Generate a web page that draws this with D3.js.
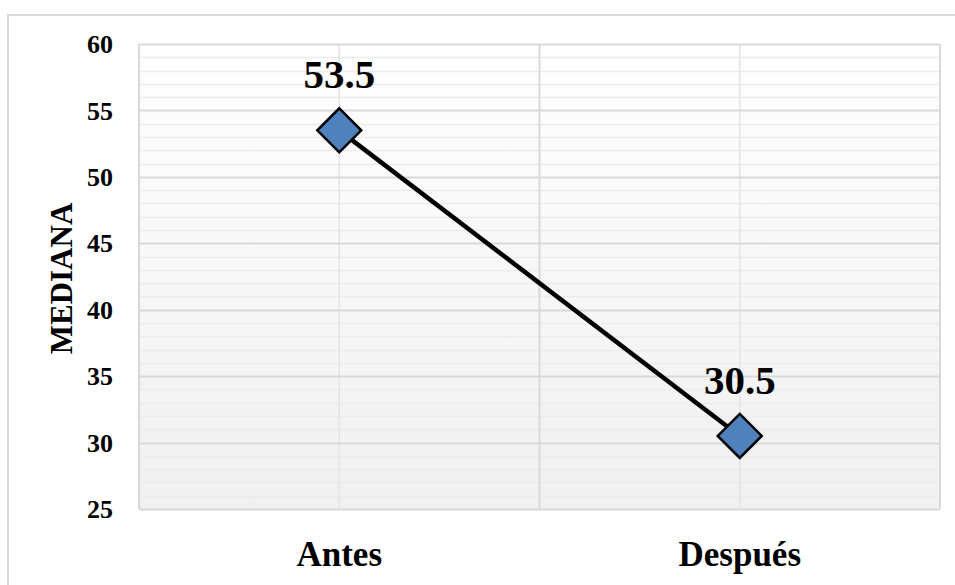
<!DOCTYPE html>
<html>
<head>
<meta charset="utf-8">
<script src="https://cdn.jsdelivr.net/npm/d3@7"></script>
<style>
  html, body { margin: 0; padding: 0; background: #fff; }
  svg { display: block; font-family: "Liberation Serif", "Times New Roman", serif; font-weight: bold; }
</style>
</head>
<body>
<svg id="chart" width="955" height="585"></svg>
<script>
const categories = ['Antes', 'Después']
const medians = [53.5, 30.5]
const yTicks = [25, 30, 35, 40, 45, 50, 55, 60]
const yTitle = 'MEDIANA'

const svg = d3.select('#chart')
const margin = { top: 44, right: 15, bottom: 76, left: 139 }
const width = 955 - margin.left - margin.right
const height = 585 - margin.top - margin.bottom

// outer chart border (runs off the right and bottom edges)
svg.append('rect')
  .attr('x', 8).attr('y', 15)
  .attr('width', 980).attr('height', 600)
  .attr('fill', 'none')
  .attr('stroke', '#d9d9d9')
  .attr('stroke-width', 2)

const defs = svg.append('defs')
const grad = defs.append('linearGradient')
  .attr('id', 'plotbg').attr('x1', 0).attr('y1', 0).attr('x2', 0).attr('y2', 1)
grad.append('stop').attr('offset', '0%').attr('stop-color', '#ffffff')
grad.append('stop').attr('offset', '100%').attr('stop-color', '#f0f0f0')

const g = svg.append('g').attr('transform', `translate(${margin.left},${margin.top})`)

const x = d3.scaleBand().domain(categories).range([0, width])
const y = d3.scaleLinear().domain([25, 60]).range([height, 0])

g.append('rect')
  .attr('width', width).attr('height', height)
  .attr('fill', 'url(#plotbg)')

// minor horizontal gridlines
g.append('g')
  .selectAll('line')
  .data(d3.range(25, 61, 1).filter(v => v % 5 !== 0))
  .join('line')
  .attr('x1', 0).attr('x2', width)
  .attr('y1', d => Math.round(y(d)) + 0.5).attr('y2', d => Math.round(y(d)) + 0.5)
  .attr('stroke', '#ececec').attr('stroke-width', 1.5)

// minor vertical gridlines at category centres
g.append('g')
  .selectAll('line')
  .data(categories)
  .join('line')
  .attr('x1', d => x(d) + x.bandwidth() / 2).attr('x2', d => x(d) + x.bandwidth() / 2)
  .attr('y1', 0).attr('y2', height)
  .attr('stroke', '#e4e4e4').attr('stroke-width', 1.5)

// major horizontal gridlines
g.append('g')
  .selectAll('line')
  .data(yTicks)
  .join('line')
  .attr('x1', 0).attr('x2', width)
  .attr('y1', d => Math.round(y(d)) + 0.5).attr('y2', d => Math.round(y(d)) + 0.5)
  .attr('stroke', '#d9d9d9').attr('stroke-width', 2)

// major vertical gridlines at category boundaries
g.append('g')
  .selectAll('line')
  .data([0, 1, 2])
  .join('line')
  .attr('x1', i => i * x.bandwidth()).attr('x2', i => i * x.bandwidth())
  .attr('y1', 0).attr('y2', height)
  .attr('stroke', '#d9d9d9').attr('stroke-width', 2)

// y axis labels
g.append('g')
  .attr('font-size', 26)
  .attr('text-anchor', 'end')
  .selectAll('text')
  .data(yTicks)
  .join('text')
  .attr('x', -26)
  .attr('y', d => y(d))
  .attr('dy', '0.35em')
  .text(d => d)

// category labels
g.append('g')
  .attr('font-size', 35)
  .attr('text-anchor', 'middle')
  .selectAll('text')
  .data(categories)
  .join('text')
  .attr('x', d => x(d) + x.bandwidth() / 2)
  .attr('y', height + 57)
  .text(d => d)

svg.append('text')
  .attr('transform', `translate(72,${margin.top + height / 2 + 2}) rotate(-90)`)
  .attr('text-anchor', 'middle')
  .attr('font-size', 31)
  .text(yTitle)

const pts = categories.map((c, i) => ({ c, v: medians[i] }))
const line = d3.line().x(d => x(d.c) + x.bandwidth() / 2).y(d => y(d.v))

g.append('path')
  .datum(pts)
  .attr('d', line)
  .attr('fill', 'none')
  .attr('stroke', '#000')
  .attr('stroke-width', 4.5)

g.append('g')
  .selectAll('path')
  .data(pts)
  .join('path')
  .attr('transform', d => `translate(${x(d.c) + x.bandwidth() / 2},${y(d.v)})`)
  .attr('d', 'M0,-22L22,0L0,22L-22,0Z')
  .attr('fill', '#4f81bd')
  .attr('stroke', '#000')
  .attr('stroke-width', 2.5)

g.append('g')
  .attr('font-size', 41)
  .attr('text-anchor', 'middle')
  .selectAll('text')
  .data(pts)
  .join('text')
  .attr('x', d => x(d.c) + x.bandwidth() / 2)
  .attr('y', d => y(d.v) - 42)
  .text(d => d.v.toFixed(1))
</script>
</body>
</html>
